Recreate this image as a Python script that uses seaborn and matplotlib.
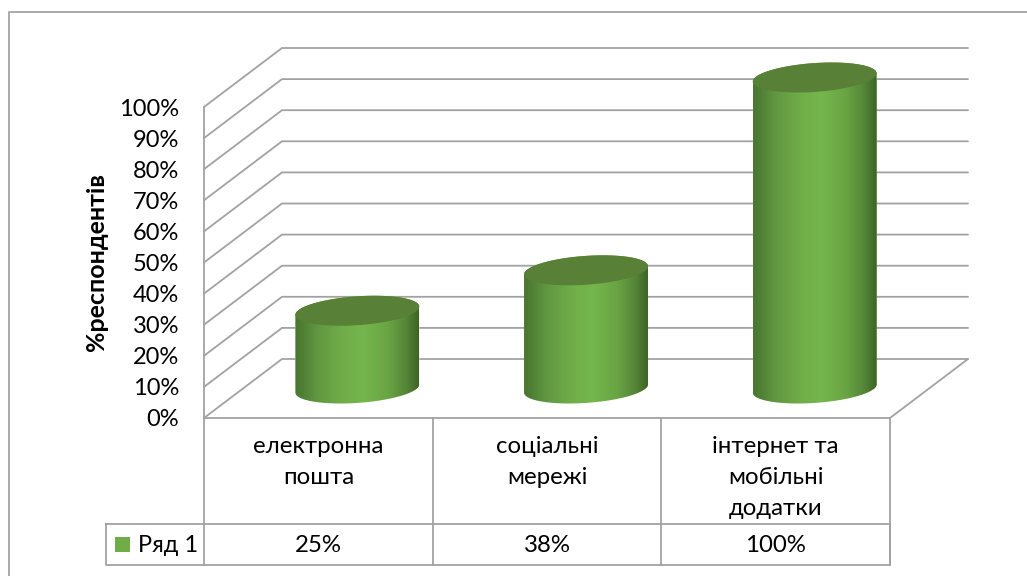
import numpy as np
import matplotlib
matplotlib.use("Agg")
import matplotlib.pyplot as plt
import matplotlib.transforms as mtransforms
from matplotlib.colors import LinearSegmentedColormap
from matplotlib.lines import Line2D
from matplotlib.patches import Polygon, Rectangle
import seaborn as sns

categories = ["електронна\nпошта", "соціальні\nмережі", "інтернет та\nмобільні\nдодатки"]
values = [25, 38, 100]
y_ticks = list(range(0, 101, 10))
series_name = "Ряд 1"
y_title = "%респондентів"

W, H = 1027, 576
sns.set_theme(style="white")
plt.rcParams["font.family"] = ["Lato", "Noto Sans", "DejaVu Sans"]

GRID = "#a2a2a2"
GREEN = "#70ad47"
TOP = "#588036"
FS = 17.3

fig = plt.figure(figsize=(W / 100, H / 100), dpi=100, facecolor="white")
FRONT_L, FRONT_R, FRONT_B, FRONT_T = 204, 890, 418, 107
ax = fig.add_axes([FRONT_L / W, 1 - FRONT_B / H, (FRONT_R - FRONT_L) / W, (FRONT_B - FRONT_T) / H])
ax.patch.set_alpha(0)

px = mtransforms.Affine2D().scale(1 / W, -1 / H).translate(0, 1) + fig.transFigure
col_px = mtransforms.blended_transform_factory(ax.transData, px)

sns.barplot(x=categories, y=values, color=GREEN, width=124 / 228.67, saturation=1, ax=ax, zorder=3)
ax.set_xlim(-0.5, 2.5)
ax.set_ylim(0, 100)

sx = (FRONT_R - FRONT_L) / 3
sy = (FRONT_B - FRONT_T) / 100
depth_x = 78 / sx
depth_y = 59 / sy

# walls and floor
for t in y_ticks:
    ax.plot([-0.5, -0.5 + depth_x, 2.5 + depth_x], [t, t + depth_y, t + depth_y],
            color=GRID, lw=1.3, clip_on=False, zorder=1, solid_joinstyle="miter")
ax.plot([2.5, 2.5 + depth_x], [0, depth_y], color=GRID, lw=1.3, clip_on=False, zorder=1)

# cylinders
a, b, theta = 62.1, 14.4, np.radians(4)
t0 = np.arctan2(-b * np.sin(theta), a * np.cos(theta))


def ellipse(xc, yc, start, stop):
    t = np.linspace(start, stop, 120)
    ex = a * np.cos(t) * np.cos(theta) - b * np.sin(t) * np.sin(theta)
    ey = a * np.cos(t) * np.sin(theta) + b * np.sin(t) * np.cos(theta)
    return np.column_stack([xc + ex / sx, yc + ey / sy])


cmap = LinearSegmentedColormap.from_list(
    "cyl",
    [(0, "#4a7631"), (0.06, "#4f7f35"), (0.18, "#619741"), (0.38, "#70ad49"), (0.55, "#75b64d"),
     (0.75, "#69a544"), (0.9, "#558538"), (1, "#3d6426")],
)
grad = np.linspace(0, 1, 256).reshape(1, -1)
for rect, v in zip(list(ax.patches), values):
    xc = rect.get_x() + rect.get_width() / 2 + depth_x / 2
    yb = depth_y / 2
    rect.set_x(rect.get_x() + depth_x / 2)
    rect.set_y(yb)
    rect.set_height(v)
    # outline: lower half of the base, then far half of the top
    low = ellipse(xc, yb, t0 + np.pi, t0 + 2 * np.pi)
    up = ellipse(xc, yb + v, t0, t0 + np.pi)
    body = Polygon(np.vstack([low, up]), closed=True, transform=ax.transData, fc="none", ec="none")
    ax.add_patch(body)
    rect.set_clip_path(body)
    rect.set_clip_box(fig.bbox)
    x0, x1 = xc - 62 / sx, xc + 62 / sx
    im = ax.imshow(grad, cmap=cmap, extent=[x0, x1, 0, yb + v + 15 / sy], aspect="auto",
                   zorder=4, interpolation="bilinear")
    im.set_clip_path(body)
    im.set_clip_box(fig.bbox)
    ax.add_patch(Polygon(ellipse(xc, yb + v, 0, 2 * np.pi), closed=True, fc=TOP, ec="none",
                         zorder=5, clip_on=False))
ax.set_xlim(-0.5, 2.5)
ax.set_ylim(0, 100)

# axes
sns.despine(ax=ax, top=True, right=True)
for s in ("left", "bottom"):
    ax.spines[s].set_color(GRID)
    ax.spines[s].set_linewidth(1.3)
    ax.spines[s].set_zorder(2)
ax.set_yticks(y_ticks)
ax.set_yticklabels([f"{t}%" for t in y_ticks], fontsize=17, color="black")
ax.tick_params(axis="y", length=0, pad=18)
ax.tick_params(axis="x", length=0, pad=13)
ax.set_xticks(range(len(categories)))
ax.set_xticklabels(categories, fontsize=FS, color="black", linespacing=1.6, va="top")
ax.set_xlabel("")
ax.set_ylabel(y_title, fontsize=18, fontweight="bold", color="black")
ax.yaxis.set_label_coords(108, 262, transform=px)

# data table
TB_TOP, TB_BOT, LEG_L = 524, 565, 106
fig.add_artist(Line2D([LEG_L, FRONT_R, FRONT_R, LEG_L, LEG_L], [TB_TOP, TB_TOP, TB_BOT, TB_BOT, TB_TOP],
                      transform=px, color=GRID, lw=1.3))
for i in range(len(categories) + 1):
    fig.add_artist(Line2D([i - 0.5, i - 0.5], [FRONT_B, TB_BOT], transform=col_px, color=GRID, lw=1.3))
for i, v in enumerate(values):
    fig.text(i, 545, f"{v}%", transform=col_px, ha="center", va="center", fontsize=FS, color="black")
fig.add_artist(Rectangle((115, 537), 15, 15, transform=px, fc=GREEN, ec="none"))
fig.text(138, 545, series_name, transform=px, ha="left", va="center", fontsize=17, color="black")

# chart frame
fig.add_artist(Line2D([8.5, 8.5, W], [H, 11.5, 11.5], transform=px, color=GRID, lw=1.3))

fig.savefig("out.png", dpi=100, facecolor="white")
